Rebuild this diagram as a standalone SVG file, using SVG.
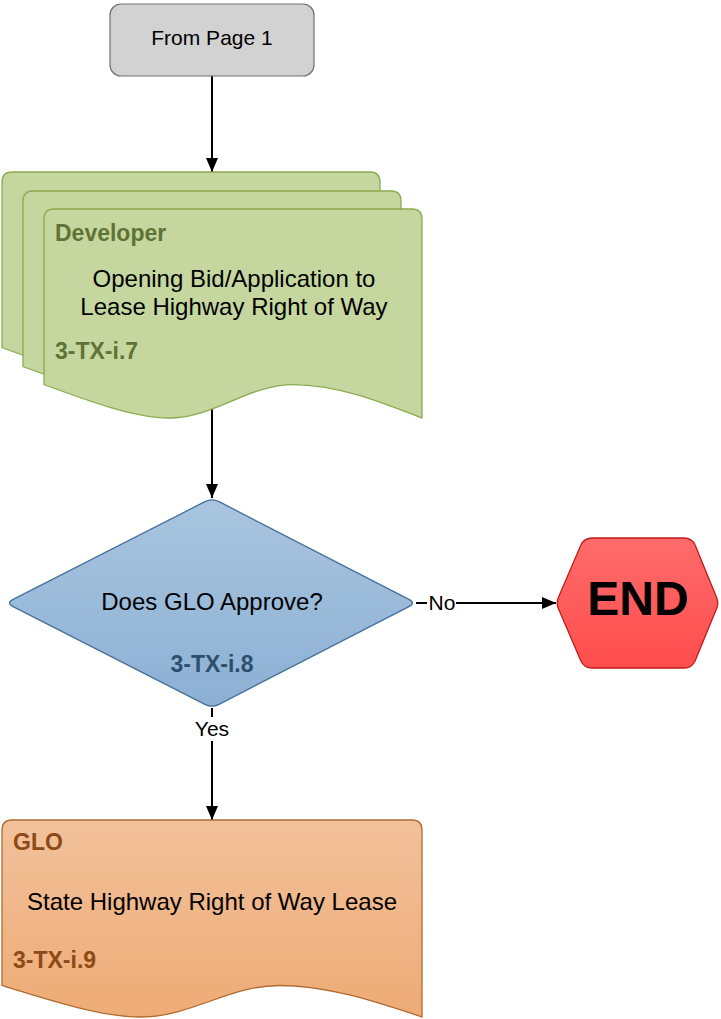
<svg xmlns="http://www.w3.org/2000/svg" width="721" height="1019" viewBox="0 0 721 1019">
<defs>
<style>
.t{font-family:"Liberation Sans",Arial,sans-serif;fill:#000}
.b{font-weight:bold}
.con{stroke:#000;stroke-width:2;fill:none}
.dev{fill:#c5d79f;stroke:#8aab4e;stroke-width:1.3}
</style>
<linearGradient id="gBlue" x1="0" y1="0" x2="0" y2="1"><stop offset="0" stop-color="#a9c5df"/><stop offset="1" stop-color="#8cb0d4"/></linearGradient>
<linearGradient id="gRed" x1="0" y1="0" x2="0" y2="1"><stop offset="0" stop-color="#ff6b6b"/><stop offset="1" stop-color="#ff4d4d"/></linearGradient>
<linearGradient id="gOr" x1="0" y1="0" x2="0" y2="1"><stop offset="0" stop-color="#f2c19b"/><stop offset="1" stop-color="#eeab75"/></linearGradient>
<marker id="arr" markerUnits="userSpaceOnUse" markerWidth="14" markerHeight="12" refX="14" refY="6" orient="auto"><path d="M0,0 L14,6 L0,12 Z" fill="#000"/></marker>
</defs>

<g id="connectors">
<line class="con" x1="212" y1="76" x2="212" y2="172" marker-end="url(#arr)"/>
<line class="con" x1="212" y1="409" x2="212" y2="498" marker-end="url(#arr)"/>
<line class="con" x1="416" y1="603" x2="556" y2="603" marker-end="url(#arr)"/>
<line class="con" x1="212" y1="708" x2="212" y2="820" marker-end="url(#arr)"/>
<rect x="427" y="592" width="29" height="22" fill="#fff"/>
<text class="t" x="442" y="610" font-size="21" text-anchor="middle">No</text>
<rect x="193" y="717" width="38" height="24" fill="#fff"/>
<text class="t" x="212" y="736" font-size="21" text-anchor="middle">Yes</text>
</g>

<g id="from-page-1">
<rect x="110" y="4" width="204" height="72" rx="11" fill="#d2d2d2" stroke="#6f6f6f" stroke-width="1.2"/>
<text class="t" x="212" y="45" font-size="21" text-anchor="middle">From Page 1</text>
</g>

<g id="developer">
<path class="dev" d="M2,182 Q2,172 12,172 L370,172 Q380,172 380,182 L380,381 C342,367 297,347.6 251.5,347.6 C206,347.6 172,381 126.7,381 C92.7,381 47.4,364.3 2,347.6 Z"/>
<path class="dev" d="M23,201 Q23,191 33,191 L391,191 Q401,191 401,201 L401,400 C363,386 318,366.6 272.5,366.6 C227,366.6 193,400 147.7,400 C113.7,400 68.4,383.3 23,366.6 Z"/>
<path class="dev" d="M44,219 Q44,209 54,209 L412,209 Q422,209 422,219 L422,418 C384.2,403.4 338.8,384.6 293.5,384.6 C248.1,384.6 214,418 168.7,418 C134.7,418 89.4,401.3 44,384.6 Z"/>
<text class="t b" x="55" y="241" font-size="23" style="fill:#5f7335">Developer</text>
<text class="t" x="234" y="287" font-size="24" text-anchor="middle">Opening Bid/Application to</text>
<text class="t" x="234" y="315" font-size="24" text-anchor="middle">Lease Highway Right of Way</text>
<text class="t b" x="55" y="359" font-size="23" style="fill:#5f7335">3-TX-i.7</text>
</g>

<g id="glo-approve">
<path d="M219.1,501.7 L408.9,599.3 Q416,603 408.9,606.7 L219.1,704.3 Q212,708 204.9,704.3 L13.1,606.6 Q6,603 13.1,599.4 L204.9,501.7 Q212,498 219.1,501.7 Z" fill="url(#gBlue)" stroke="#44709a" stroke-width="1.3"/>
<text class="t" x="212" y="610" font-size="24" text-anchor="middle">Does GLO Approve?</text>
<text class="t b" x="212" y="672" font-size="23" text-anchor="middle" style="fill:#2f4e6e">3-TX-i.8</text>
</g>

<g id="end">
<path d="M558.4,597.5 L580.8,545.3 Q584,538 592,538 L684,538 Q692,538 695.2,545.3 L716.6,597.5 Q719,603 716.6,608.5 L695.2,660.7 Q692,668 684,668 L592,668 Q584,668 580.8,660.7 L558.4,608.5 Q556,603 558.4,597.5 Z" fill="url(#gRed)" stroke="#c01b1b" stroke-width="1.3"/>
<text class="t b" x="638" y="615" font-size="48" text-anchor="middle">END</text>
</g>

<g id="glo-lease">
<path d="M2,830 Q2,820 12,820 L412,820 Q422,820 422,830 L422,1017 C380,1003.2 329.6,985.5 279.2,985.5 C228.8,985.5 191,1017 140.6,1017 C102.8,1017 52.4,1001.2 2,985.5 Z" fill="url(#gOr)" stroke="#b06a30" stroke-width="1.3"/>
<text class="t b" x="13" y="850" font-size="23" style="fill:#8c4a17">GLO</text>
<text class="t" x="212" y="910" font-size="24" text-anchor="middle">State Highway Right of Way Lease</text>
<text class="t b" x="13" y="968" font-size="23" style="fill:#8c4a17">3-TX-i.9</text>
</g>
</svg>
